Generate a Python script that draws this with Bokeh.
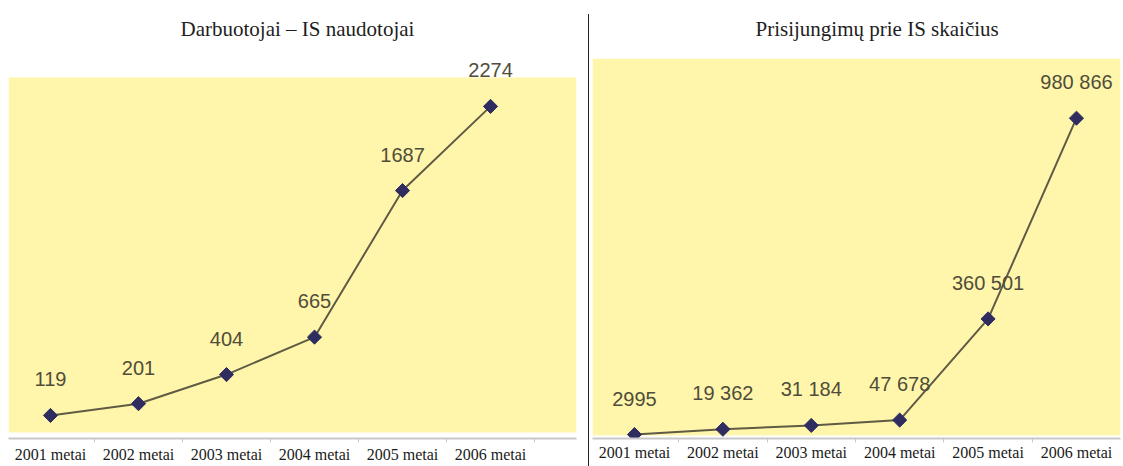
import math
from bokeh.plotting import figure
from bokeh.models import Range1d, FixedTicker, BoxAnnotation, ColumnDataSource, Div, Spacer
from bokeh.layouts import row, column
from bokeh.embed import file_html
from bokeh.resources import INLINE
from bokeh.core.properties import value

# ---- data ----
years = ["2001 metai", "2002 metai", "2003 metai", "2004 metai", "2005 metai", "2006 metai"]
users = [119, 201, 404, 665, 1687, 2274]
connections = [2995, 19362, 31184, 47678, 360501, 980866]
title_users = "Darbuotojai – IS naudotojai"
title_connections = "Prisijungimų prie IS skaičius"

YELLOW = "#fff5ab"
LINE = "#5f5b45"
MARK = "#2f2d60"
LABEL = "#4f4d3a"
SERIF = "'Liberation Serif', 'Times New Roman', serif"


def fmt(v):
    return f"{v:,}".replace(",", " ") if v >= 10000 else str(v)


def make_chart(title, values, width, mb_left, mb_right, xr, yr, yellow_top,
               mb_top, mb_bottom, t_offset, lab_standoff):
    n = len(years)
    src = ColumnDataSource(dict(x=list(range(n)), y=values,
                                lab=[fmt(v) for v in values]))
    p = figure(width=width, height=466, output_backend="svg", toolbar_location=None,
               x_range=Range1d(*xr), y_range=Range1d(*yr),
               min_border_left=mb_left, min_border_right=mb_right,
               min_border_top=mb_top, min_border_bottom=mb_bottom)
    p.title.text = title
    p.title.align = "left"
    p.title.offset = t_offset
    p.title.vertical_align = "top"
    p.title.standoff = 32
    p.title.text_font = SERIF
    p.title.text_font_size = "21px"
    p.title.text_font_style = "normal"
    p.title.text_color = "#1e1e1e"
    p.background_fill_color = "white"
    p.border_fill_color = "white"
    p.outline_line_color = None
    p.xgrid.visible = False
    p.ygrid.visible = False
    p.yaxis.visible = False

    p.add_layout(BoxAnnotation(bottom=0, top=yellow_top, fill_color=YELLOW,
                               fill_alpha=1.0, line_color=None, level="underlay"))

    ax = p.xaxis[0]
    ax.ticker = FixedTicker(ticks=list(range(n)),
                            minor_ticks=[i - 0.5 for i in range(n + 1)])
    ax.major_label_overrides = {i: y for i, y in enumerate(years)}
    ax.major_tick_line_color = None
    ax.major_tick_out = 0
    ax.major_tick_in = 0
    ax.minor_tick_line_color = "#c8c8c8"
    ax.minor_tick_out = 4
    ax.minor_tick_in = 0
    ax.axis_line_color = "#c8c8c8"
    ax.axis_line_width = 2
    ax.major_label_standoff = lab_standoff
    ax.major_label_text_font = SERIF
    ax.major_label_text_font_size = "16px"
    ax.major_label_text_color = "#1a1a1a"

    p.line("x", "y", source=src, line_color=LINE, line_width=2)
    p.scatter("x", "y", source=src, marker="square", size=10, angle=math.pi / 4,
              fill_color=MARK, line_color=MARK)
    p.text("x", "y", text="lab", source=src, text_align="center",
           text_baseline="middle", y_offset=-36,
           text_font=value("Liberation Sans"), text_font_size="20px",
           text_color=LABEL)
    return p


left = make_chart(title_users, users, width=588, mb_left=8, mb_right=12,
                  xr=(-0.477, 5.977), yr=(-41.8, 2608), yellow_top=2475,
                  mb_top=58, mb_bottom=28, t_offset=172, lab_standoff=3)

right = make_chart(title_connections, connections, width=534, mb_left=3, mb_right=3,
                   xr=(-0.475, 5.498), yr=(-9225, 1165400), yellow_top=None,
                   mb_top=58, mb_bottom=26, t_offset=163, lab_standoff=1)

divider = column(Spacer(height=14, width=1, margin=0),
                 Div(text="", width=1, height=452, margin=0,
                     styles={"background-color": "#222222"}),
                 spacing=0)

layout = row(left, divider, right, spacing=0)

open("out.html", "w").write(file_html(layout, INLINE))
